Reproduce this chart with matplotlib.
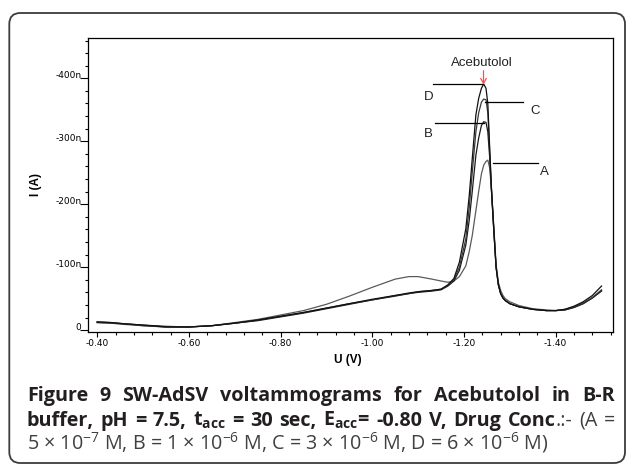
import matplotlib
matplotlib.use("Agg")
import matplotlib.pyplot as plt
import matplotlib.ticker as ticker
from matplotlib.patches import FancyBboxPatch

W_PX, H_PX = 629, 465

# potential (V) and reduction current (nA, plotted as positive)
POTENTIAL = [-0.40, -0.43, -0.46, -0.50, -0.55, -0.60, -0.65, -0.70, -0.75, -0.80,
             -0.85, -0.90, -0.95, -1.00, -1.05, -1.08, -1.10, -1.13, -1.15, -1.165,
             -1.178, -1.19, -1.204, -1.2115, -1.218, -1.226, -1.232, -1.238, -1.243, -1.248,
             -1.252, -1.256, -1.26, -1.265, -1.27, -1.275, -1.28, -1.285, -1.29, -1.30,
             -1.32, -1.35, -1.38, -1.40, -1.42, -1.44, -1.46, -1.48, -1.50]
CURRENT_A = [12, 11, 9, 7, 5, 5, 7, 12, 17, 24,
             31, 41, 54, 68, 81, 85, 85, 81, 78, 76,
             78, 85, 102, 125, 150, 190, 220, 248, 262, 268,
             270, 258, 222, 165, 105, 76, 63, 55, 50, 45,
             39, 34, 32, 31, 32, 36, 42, 51, 63]
CURRENT_B = [13, 12, 10, 8, 6, 5, 7, 11, 15, 21,
             27, 34, 41, 48, 54, 58, 60, 62, 64, 70,
             78, 95, 135, 175, 220, 278, 305, 325, 331, 330,
             315, 275, 220, 158, 100, 72, 58, 51, 47, 42,
             37, 33, 31, 31, 32, 36, 42, 51, 62]
CURRENT_C = [12, 11, 10, 7, 5, 5, 7, 11, 16, 22,
             28, 35, 42, 48, 55, 58, 61, 63, 65, 71,
             80, 100, 145, 195, 250, 315, 345, 362, 367, 366,
             345, 285, 222, 160, 100, 72, 58, 51, 47, 42,
             37, 33, 31, 31, 33, 37, 43, 52, 64]
CURRENT_D = [13, 12, 10, 8, 5, 5, 7, 11, 16, 22,
             28, 35, 42, 49, 55, 59, 61, 63, 65, 72,
             82, 108, 161, 214, 272, 342, 368, 384, 391, 384,
             360, 290, 225, 160, 100, 72, 58, 51, 47, 42,
             37, 33, 31, 31, 33, 38, 45, 55, 70]

CURVES = {"A": CURRENT_A, "B": CURRENT_B, "C": CURRENT_C, "D": CURRENT_D}
CURVE_COLORS = {"A": "#5a5a5a", "B": "#1a1a1a", "C": "#3a3a3a", "D": "#111111"}

# leader lines: (x start, x end, y) and label position (x, y)
LEADERS = {
    "D": ((-1.1335, -1.239, 390.6), (-1.1226, 371)),
    "C": ((-1.2463, -1.3285, 363), (-1.3553, 348)),
    "B": ((-1.1372, -1.2426, 329.6), (-1.1226, 311.6)),
    "A": ((-1.2643, -1.3625, 265), (-1.375, 251.7)),
}
PEAK_NAME = "Acebutolol"
PEAK_POS = (-1.239, 424)
ARROW_X = -1.2426
ARROW_Y = (412, 390)

CAPTION_1 = "Figure 9 SW-AdSV voltammograms for Acebutolol in B-R"
CAPTION_2 = [
    [("buffer,", "bold")], [("pH", "bold")], [("=", "bold")], [("7.5,", "bold")],
    [(r"t$_\mathbf{acc}$", "bold")], [("=", "bold")], [("30", "bold")], [("sec,", "bold")],
    [(r"E$_\mathbf{acc}$=", "bold")], [("-0.80", "bold")], [("V,", "bold")],
    [("Drug", "bold")], [("Conc", "bold"), (".:-", "normal")], [("(A", "normal")], [("=", "normal")],
]
CAPTION_3 = r"5 × 10$^{-7}$ M, B = 1 × 10$^{-6}$ M, C = 3 × 10$^{-6}$ M, D = 6 × 10$^{-6}$ M)"

CAP_FONT = "Open Sans"
plt.rcParams["axes.unicode_minus"] = False
plt.rcParams["mathtext.fontset"] = "custom"
plt.rcParams["mathtext.rm"] = CAP_FONT
plt.rcParams["mathtext.it"] = CAP_FONT + ":italic"
plt.rcParams["mathtext.bf"] = CAP_FONT + ":bold"

BOLD_COLOR = "#231f20"
REG_COLOR = "#404040"


def fx(px):
    return px / W_PX


def fy(py):
    return 1 - py / H_PX


fig = plt.figure(figsize=(W_PX / 100, H_PX / 100), dpi=100)
fig.patch.set_facecolor("white")

border = FancyBboxPatch((0.093, 0.02), 6.157, 4.50, boxstyle="round,pad=0,rounding_size=0.11",
                        transform=fig.dpi_scale_trans, fill=False, lw=1.3, ec="#3c3c3c")
fig.add_artist(border)

ax = fig.add_axes([fx(88), fy(332), (613 - 88) / W_PX, (332 - 38) / H_PX])
for name, cur in CURVES.items():
    ax.plot(POTENTIAL, cur, color=CURVE_COLORS[name], lw=0.9)

for name, ((x0, x1, y), (lx, ly)) in LEADERS.items():
    ax.plot([x0, x1], [y, y], color="black", lw=0.9)
    ax.text(lx, ly, name, ha="center", va="center", fontsize=9.5,
            family="Liberation Sans", color="#222222")

ax.text(PEAK_POS[0], PEAK_POS[1], PEAK_NAME, ha="center", va="center", fontsize=9.5,
        family="Liberation Sans", color="#222222")
ax.annotate("", xy=(ARROW_X, ARROW_Y[1]), xytext=(ARROW_X, ARROW_Y[0]),
            arrowprops=dict(arrowstyle="->,head_length=0.35,head_width=0.2",
                            color="#ff4d4d", lw=0.9, shrinkA=0, shrinkB=0))

ax.set_xlim(-0.380, -1.525)
ax.set_ylim(-3, 464)
ax.xaxis.set_major_locator(ticker.MultipleLocator(0.2))
ax.xaxis.set_minor_locator(ticker.MultipleLocator(0.04))
ax.xaxis.set_major_formatter(ticker.FuncFormatter(lambda v, _: f"{v:.2f}"))
ax.yaxis.set_major_locator(ticker.MultipleLocator(100))
ax.yaxis.set_minor_locator(ticker.MultipleLocator(20))
ax.yaxis.set_major_formatter(ticker.FuncFormatter(lambda v, _: "0" if abs(v) < 1e-9 else f"-{v:.0f}n"))

ax.tick_params(which="both", direction="out", width=0.8, labelsize=6.5, colors="black")
ax.tick_params(axis="y", which="major", length=5.8, pad=-1.2)
ax.tick_params(axis="y", which="minor", length=2.2)
ax.tick_params(axis="x", which="major", length=3.4, pad=1.5)
ax.tick_params(axis="x", which="minor", length=2.2)
for sp in ax.spines.values():
    sp.set_linewidth(0.9)
    sp.set_color("black")
for tick in ax.yaxis.get_major_ticks():
    tick.label1.set_verticalalignment("baseline")

fig.text(fx(35.5), fy(185), "I (A)", rotation=90, ha="center", va="center",
         fontsize=8.5, fontweight="bold", family="Liberation Sans")
fig.text(fx(348), fy(360), "U (V)", ha="center", va="center",
         fontsize=8.5, fontweight="bold", family="Liberation Sans")

# caption: size fitted on the last (left aligned) line, first two lines justified
renderer = fig.canvas.get_renderer()
x_left, x_right = 27, 615
t3 = fig.text(fx(x_left), fy(449.5), CAPTION_3, fontsize=15, family=CAP_FONT,
              color=REG_COLOR, va="baseline", ha="left")
w3 = t3.get_window_extent(renderer).width
cap_size = 15 * (550 - x_left) / w3
t3.set_fontsize(cap_size)


def justified(words, y_px):
    placed = []
    for word in words:
        pieces = []
        for txt, weight in word:
            t = fig.text(0, fy(y_px), txt, fontsize=cap_size, family=CAP_FONT, fontweight=weight,
                         color=BOLD_COLOR if weight == "bold" else REG_COLOR,
                         va="baseline", ha="left")
            pieces.append((t, t.get_window_extent(renderer).width))
        placed.append(pieces)
    total = sum(w for pieces in placed for _, w in pieces)
    gap = (x_right - x_left - total) / (len(placed) - 1)
    x = x_left
    for pieces in placed:
        for t, w in pieces:
            t.set_x(fx(x))
            x += w
        x += gap


justified([[(w, "bold")] for w in CAPTION_1.split()], 401)
justified(CAPTION_2, 425.5)

fig.savefig("out.png", dpi=100, facecolor="white")
